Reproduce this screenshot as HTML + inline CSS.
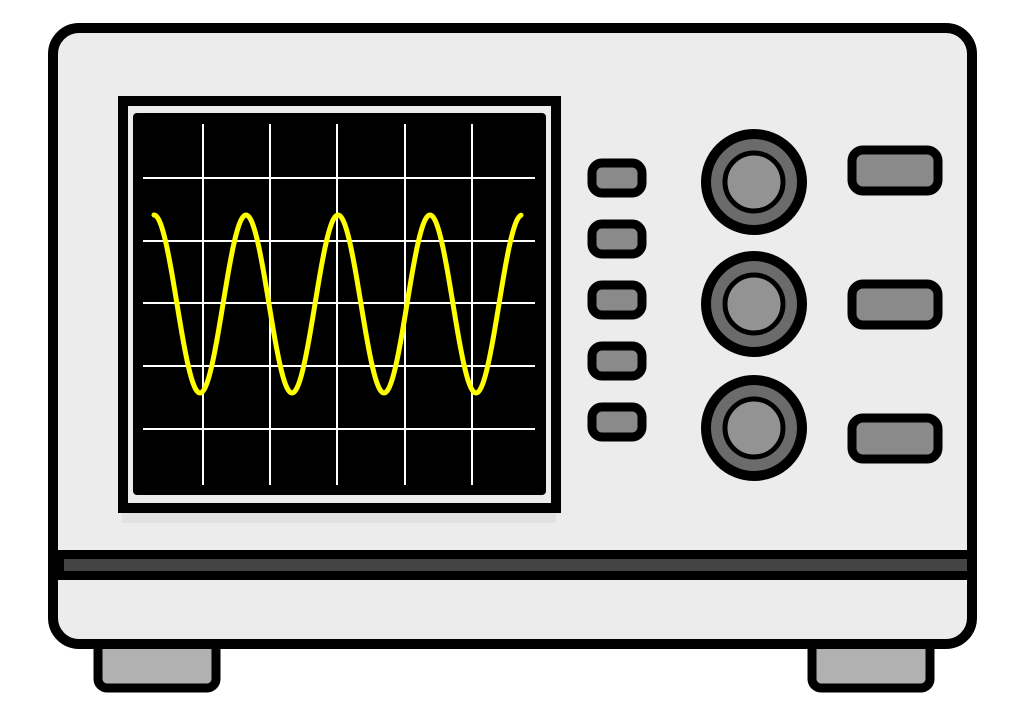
<!DOCTYPE html>
<html><head><style>html,body{margin:0;padding:0;background:#fff;}svg{display:block}</style></head>
<body>
<svg width="1024" height="717" viewBox="0 0 1024 717" xmlns="http://www.w3.org/2000/svg">
<!-- feet -->
<rect x="98" y="640" width="118" height="48" rx="9" fill="#b1b1b1" stroke="#000" stroke-width="9"/>
<rect x="812" y="640" width="118" height="48" rx="9" fill="#b1b1b1" stroke="#000" stroke-width="9"/>
<!-- body -->
<rect x="53" y="28" width="919" height="616" rx="26" fill="#ececec" stroke="#000" stroke-width="10"/>
<!-- strip -->
<rect x="58" y="550" width="909" height="30" fill="#000"/>
<rect x="64" y="559" width="903" height="12" fill="#444"/>
<!-- screen shadow -->
<rect x="122" y="512" width="434" height="11" fill="#e2e2e2"/>
<!-- screen -->
<rect x="123" y="101" width="433" height="407" fill="#ececec" stroke="#000" stroke-width="10"/>
<rect x="133" y="113" width="413" height="382" rx="4" fill="#000"/>
<g stroke="#fff" stroke-width="2">
<line x1="203" y1="124" x2="203" y2="485"/>
<line x1="270" y1="124" x2="270" y2="485"/>
<line x1="337" y1="124" x2="337" y2="485"/>
<line x1="405" y1="124" x2="405" y2="485"/>
<line x1="472" y1="124" x2="472" y2="485"/>
<line x1="143" y1="178" x2="535" y2="178"/>
<line x1="143" y1="241" x2="535" y2="241"/>
<line x1="143" y1="303" x2="535" y2="303"/>
<line x1="143" y1="366" x2="535" y2="366"/>
<line x1="143" y1="429" x2="535" y2="429"/>
</g>
<path id="w" fill="none" stroke="#ffff00" stroke-width="5" stroke-linecap="round" d=""/>
<script>
(function(){var d="";for(var x=154;x<=521;x+=1){var y=304-89*Math.cos((x-154)/92*2*Math.PI);d+=(x==154?"M":"L")+x+" "+y.toFixed(1)+" ";}document.getElementById("w").setAttribute("d",d);})();
</script>
<!-- small buttons -->
<g fill="#8a8a8a" stroke="#000" stroke-width="9">
<rect x="592" y="163" width="50" height="30" rx="10"/>
<rect x="592" y="224" width="50" height="30" rx="10"/>
<rect x="592" y="285" width="50" height="30" rx="10"/>
<rect x="592" y="346" width="50" height="30" rx="10"/>
<rect x="592" y="407" width="50" height="30" rx="10"/>
</g>
<!-- knobs -->
<g stroke="#000">
<circle cx="754" cy="182" r="48" fill="#6b6b6b" stroke-width="10"/>
<circle cx="754" cy="182" r="29" fill="#939393" stroke-width="5"/>
<circle cx="754" cy="304" r="48" fill="#6b6b6b" stroke-width="10"/>
<circle cx="754" cy="304" r="29" fill="#939393" stroke-width="5"/>
<circle cx="754" cy="428" r="48" fill="#6b6b6b" stroke-width="10"/>
<circle cx="754" cy="428" r="29" fill="#939393" stroke-width="5"/>
</g>
<!-- rect buttons -->
<g fill="#8a8a8a" stroke="#000" stroke-width="9">
<rect x="852" y="150" width="86" height="41" rx="11"/>
<rect x="852" y="284" width="86" height="41" rx="11"/>
<rect x="852" y="418" width="86" height="41" rx="11"/>
</g>
</svg>
</body></html>
